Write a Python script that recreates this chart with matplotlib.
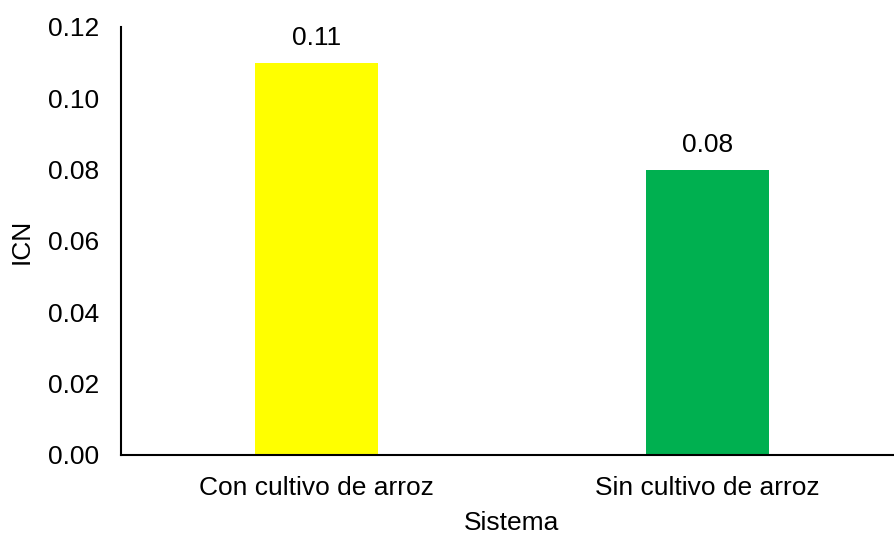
import matplotlib
matplotlib.use("Agg")
import matplotlib.pyplot as plt

# data
categories = ["Con cultivo de arroz", "Sin cultivo de arroz"]
values = [0.11, 0.08]
labels = ["0.11", "0.08"]
colors = ["#FFFF00", "#00B050"]
yticks = [0.00, 0.02, 0.04, 0.06, 0.08, 0.10, 0.12]

plt.rcParams["font.family"] = ["Liberation Sans", "DejaVu Sans"]
fs = 19

fig = plt.figure(figsize=(8.94, 5.35), dpi=100)
ax = fig.add_axes([121 / 894, 1 - 455 / 535, 782 / 894, 428 / 535])

x = list(range(len(categories)))
bars = ax.bar(x, values, width=0.315, color=colors)
for b, lab in zip(bars, labels):
    ax.annotate(lab, (b.get_x() + b.get_width() / 2, b.get_height()),
                xytext=(0, 9), textcoords="offset points",
                ha="center", va="bottom", fontsize=fs)

ax.set_xlim(-0.5, 1.5)
ax.set_ylim(0, 0.12)
ax.set_yticks(yticks)
ax.set_yticklabels([f"{t:.2f}" for t in yticks])
ax.set_xticks(x)
ax.set_xticklabels(categories)
ax.tick_params(axis="y", length=0, labelsize=fs, pad=16)
ax.tick_params(axis="x", length=0, labelsize=fs, pad=15)

for s in ["top", "right"]:
    ax.spines[s].set_visible(False)
for s in ["left", "bottom"]:
    ax.spines[s].set_linewidth(1.5)
    ax.spines[s].set_color("black")

ax.set_xlabel("Sistema", fontsize=fs, labelpad=8)
ax.set_ylabel("ICN", fontsize=fs, labelpad=10)

fig.savefig("out.png", dpi=100)
